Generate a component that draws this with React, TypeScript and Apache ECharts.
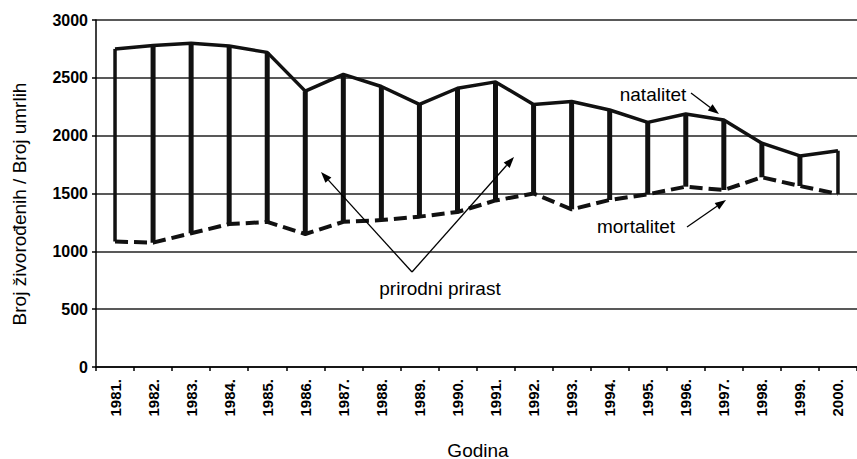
import React, { useEffect, useRef } from "react";
import * as echarts from "echarts";

const years = ["1981.", "1982.", "1983.", "1984.", "1985.", "1986.", "1987.", "1988.", "1989.", "1990.", "1991.", "1992.", "1993.", "1994.", "1995.", "1996.", "1997.", "1998.", "1999.", "2000."];
const natalitet = [2750, 2780, 2800, 2775, 2720, 2385, 2530, 2425, 2270, 2410, 2465, 2270, 2295, 2222, 2115, 2187, 2135, 1935, 1825, 1870];
const mortalitet = [1085, 1075, 1156, 1236, 1254, 1150, 1255, 1270, 1300, 1340, 1440, 1500, 1363, 1444, 1493, 1559, 1530, 1640, 1565, 1496];
const yTicks = { min: 0, max: 3000, interval: 500 };

const FONT = "Liberation Sans, Arial, sans-serif";

function arrow(x1: number, y1: number, x2: number, y2: number) {
  const ang = Math.atan2(y2 - y1, x2 - x1);
  const len = 11;
  const half = 4;
  const bx = x2 - len * Math.cos(ang);
  const by = y2 - len * Math.sin(ang);
  const px = -Math.sin(ang) * half;
  const py = Math.cos(ang) * half;
  return [
    {
      type: "line",
      shape: { x1, y1, x2: bx, y2: by },
      style: { stroke: "#000", lineWidth: 1.3 },
      z: 100,
    },
    {
      type: "polygon",
      shape: { points: [[x2, y2], [bx + px, by + py], [bx - px, by - py]] },
      style: { fill: "#000" },
      z: 100,
    },
  ];
}

const textStyle = (text: string) => ({
  text,
  fontFamily: FONT,
  fontSize: 19,
  fill: "#000",
  align: "center",
  verticalAlign: "middle",
});

export default function App() {
  const ref = useRef<HTMLDivElement>(null);
  useEffect(() => {
    document.body.style.margin = "0";
    const chart = echarts.init(ref.current!, null, { renderer: "svg" });
    const rangeData = years.map((_, i) => [i, natalitet[i], mortalitet[i]]);
    chart.setOption({
      animation: false,
      backgroundColor: "#fff",
      grid: { left: 96, top: 20, width: 771, height: 347 },
      xAxis: {
        type: "category",
        data: years,
        boundaryGap: true,
        axisLine: { show: true, lineStyle: { color: "#000", width: 1.5 } },
        axisTick: { show: true, alignWithLabel: false, length: 4, lineStyle: { color: "#000", width: 1.5 } },
        axisLabel: {
          rotate: 90,
          margin: 12,
          color: "#000",
          fontFamily: FONT,
          fontWeight: "bold",
          fontSize: 15,
        },
        splitLine: { show: false },
      },
      yAxis: {
        type: "value",
        min: yTicks.min,
        max: yTicks.max,
        interval: yTicks.interval,
        axisLine: { show: true, lineStyle: { color: "#000", width: 1.5 } },
        axisTick: { show: true, length: 4, lineStyle: { color: "#000", width: 1.5 } },
        axisLabel: {
          margin: 8,
          color: "#000",
          fontFamily: FONT,
          fontWeight: "bold",
          fontSize: 16,
          formatter: (v: number) => String(v),
        },
        splitLine: { show: true, lineStyle: { color: "#222", width: 1.5 } },
      },
      series: [
        {
          type: "custom",
          name: "prirodni prirast",
          data: rangeData,
          encode: { x: 0, y: [1, 2] },
          renderItem: (params: any, api: any) => {
            const i = api.value(0);
            const p1 = api.coord([i, api.value(1)]);
            const p2 = api.coord([i, api.value(2)]);
            const edge = i === 0 || i === years.length - 1;
            return {
              type: "line",
              shape: { x1: p1[0], y1: p1[1], x2: p2[0], y2: p2[1] },
              style: { stroke: "#111", lineWidth: edge ? 3.5 : 5 },
            };
          },
          z: 2,
        },
        {
          type: "line",
          name: "natalitet",
          data: natalitet,
          symbol: "none",
          lineStyle: { color: "#111", width: 3.5 },
          z: 3,
        },
        {
          type: "line",
          name: "mortalitet",
          data: mortalitet,
          symbol: "none",
          lineStyle: { color: "#111", width: 4, type: [13, 6] },
          z: 3,
        },
      ],
      graphic: [
        {
          type: "text",
          x: 19,
          y: 204,
          rotation: Math.PI / 2,
          style: textStyle("Broj živorođenih / Broj umrlih"),
        },
        {
          type: "text",
          x: 478,
          y: 450,
          style: textStyle("Godina"),
        },
        { type: "text", x: 653, y: 94, style: textStyle("natalitet"), z: 100 },
        { type: "text", x: 636, y: 226, style: textStyle("mortalitet"), z: 100 },
        { type: "text", x: 440, y: 288, style: textStyle("prirodni prirast"), z: 100 },
        ...arrow(691, 93, 719, 114),
        ...arrow(687, 227, 726, 200),
        ...arrow(412, 272, 321, 172),
        ...arrow(412, 272, 514, 157),
      ],
    });
    return () => chart.dispose();
  }, []);
  return <div ref={ref} style={{ position: "fixed", left: 0, top: 0, width: 857, height: 459 }} />;
}
